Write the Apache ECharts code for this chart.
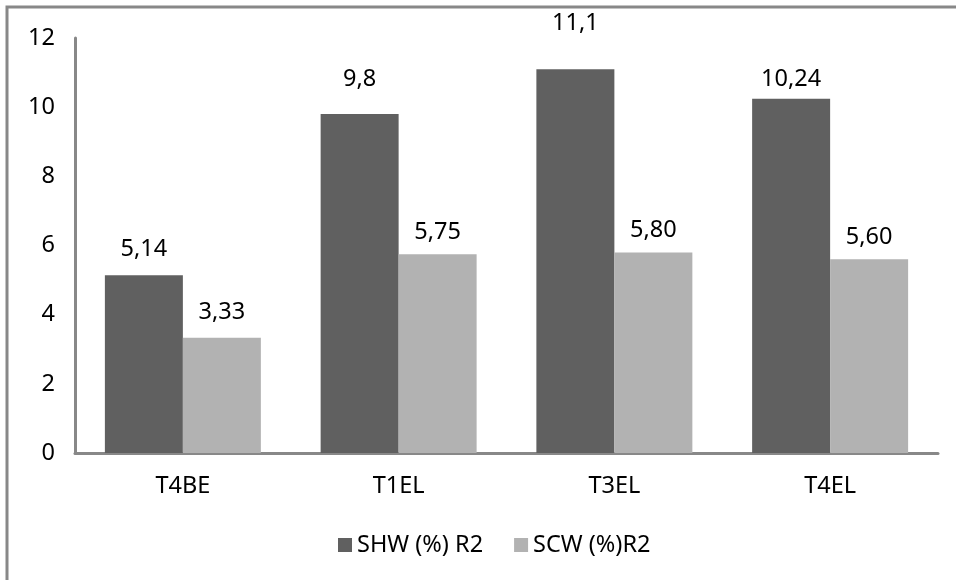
<!DOCTYPE html>
<html>
<head>
<meta charset="utf-8">
<script src="https://cdn.jsdelivr.net/npm/echarts@6/dist/echarts.min.js"></script>
<style>
  html, body { margin: 0; padding: 0; background: #fff; }
  #chart { width: 956px; height: 580px; }
</style>
</head>
<body>
<div id="chart"></div>
<script>
// Treatment groups along the x axis
const categories = ['T4BE', 'T1EL', 'T3EL', 'T4EL'];
// Values as printed above the bars (decimal comma)
const shwLabels = ['5,14', '9,8', '11,1', '10,24'];
const scwLabels = ['3,33', '5,75', '5,80', '5,60'];
const seriesNames = ['SHW (%) R2', 'SCW (%)R2'];
const yTicks = [0, 2, 4, 6, 8, 10, 12];

// Gap in px between each bar top and its value label (labels were hand-placed)
const shwLabelGap = [14, 23, 34, 8];
const scwLabelGap = [14, 10, 10, 10];

const toNum = s => parseFloat(s.replace(',', '.'));
const shwValues = shwLabels.map(toNum);
const scwValues = scwLabels.map(toNum);

const FONT = '"Noto Sans", sans-serif';
const FS = 23.5;
const chart = echarts.init(document.getElementById('chart'), null, { renderer: 'canvas' });

function barSeries(name, values, labels, gaps, color) {
  return {
    name: name,
    type: 'bar',
    data: values.map((v, i) => ({ value: v, label: { distance: gaps[i] } })),
    barGap: '0%',
    barCategoryGap: '27.7%',
    itemStyle: { color: color },
    label: {
      show: true,
      position: 'top',
      color: '#000',
      fontFamily: FONT,
      fontSize: FS,
      formatter: p => labels[p.dataIndex]
    },
    emphasis: { disabled: true }
  };
}

chart.setOption({
  animation: false,
  backgroundColor: '#fff',
  grid: { left: 75, right: 18, top: 38, bottom: 127, containLabel: false },
  graphic: [{
    type: 'polyline',
    shape: { points: [[7, 580], [7, 7], [956, 7]] },
    style: { stroke: '#888', lineWidth: 3, fill: null },
    silent: true
  }],
  legend: {
    bottom: 18,
    left: 333,
    itemWidth: 14,
    itemHeight: 14,
    itemGap: 31,
    icon: 'rect',
    textStyle: { fontFamily: FONT, fontSize: FS, color: '#000' },
    data: seriesNames
  },
  xAxis: {
    type: 'category',
    data: categories,
    axisLine: { lineStyle: { color: '#888', width: 3 } },
    axisTick: { show: false },
    axisLabel: { fontFamily: FONT, fontSize: FS, color: '#000', margin: 21 }
  },
  yAxis: {
    type: 'value',
    min: yTicks[0],
    max: yTicks[yTicks.length - 1],
    interval: yTicks[1] - yTicks[0],
    axisLine: { show: true, lineStyle: { color: '#888', width: 3 } },
    axisTick: { show: false },
    splitLine: { show: false },
    axisLabel: { fontFamily: FONT, fontSize: FS, color: '#000', margin: 20 }
  },
  series: [
    barSeries(seriesNames[0], shwValues, shwLabels, shwLabelGap, '#606060'),
    barSeries(seriesNames[1], scwValues, scwLabels, scwLabelGap, '#b2b2b2')
  ]
});
</script>
</body>
</html>
